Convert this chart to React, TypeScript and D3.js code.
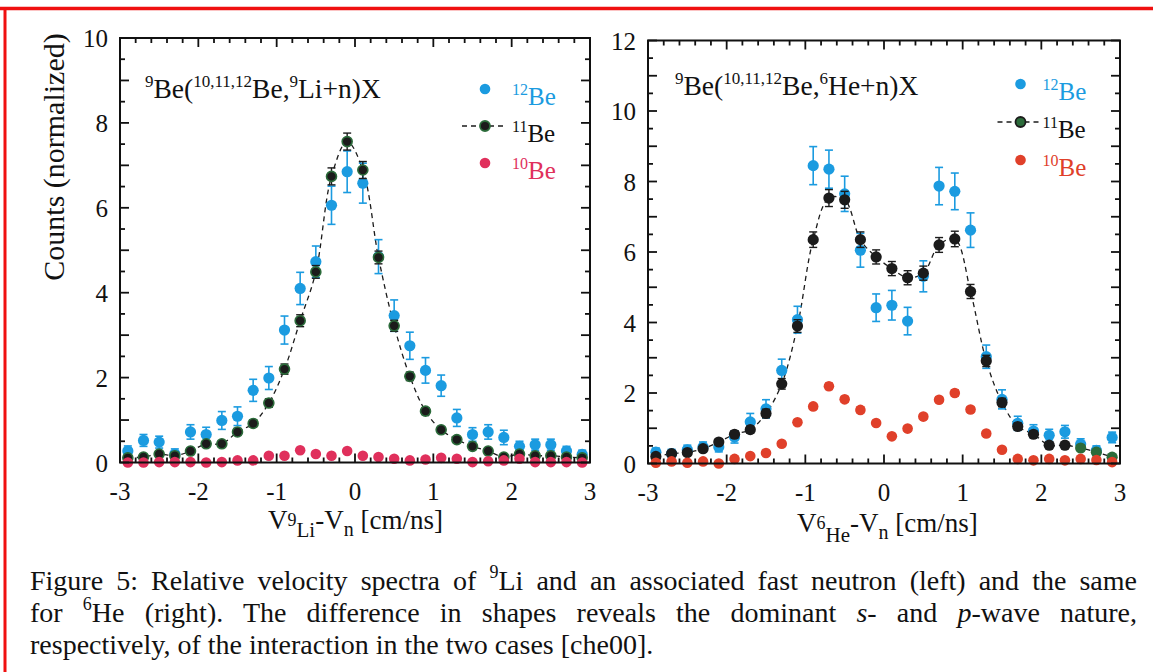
import { useLayoutEffect, useRef } from "react";
import * as d3 from "d3";

// velocity bins (cm/ns), same for both panels
const bins = [
  -2.9, -2.7, -2.5, -2.3, -2.1, -1.9, -1.7, -1.5, -1.3, -1.1, -0.9, -0.7, -0.5, -0.3, -0.1,
  0.1, 0.3, 0.5, 0.7, 0.9, 1.1, 1.3, 1.5, 1.7, 1.9, 2.1, 2.3, 2.5, 2.7, 2.9,
];

// left panel: 9Li + n
const liBe12 = [
  0.27, 0.52, 0.48, 0.2, 0.72, 0.66, 0.99, 1.09, 1.7, 1.99, 3.12, 4.1, 4.73, 6.06, 6.85,
  6.58, 4.85, 3.46, 2.75, 2.17, 1.81, 1.05, 0.66, 0.72, 0.59, 0.38, 0.42, 0.42, 0.27, 0.19,
];
const liBe12Err = [
  0.12, 0.14, 0.14, 0.12, 0.17, 0.17, 0.21, 0.22, 0.26, 0.27, 0.33, 0.38, 0.37, 0.45, 0.49,
  0.47, 0.4, 0.37, 0.32, 0.3, 0.25, 0.2, 0.16, 0.17, 0.17, 0.12, 0.13, 0.13, 0.11, 0.1,
];
const liBe11 = [
  0.11, 0.13, 0.2, 0.16, 0.27, 0.44, 0.44, 0.72, 0.92, 1.4, 2.2, 3.34, 4.49, 6.74, 7.56,
  6.89, 4.83, 3.22, 2.03, 1.21, 0.77, 0.54, 0.38, 0.27, 0.13, 0.2, 0.16, 0.16, 0.13, 0.11,
];
const liBe11Err = [
  0.05, 0.05, 0.05, 0.05, 0.06, 0.07, 0.07, 0.08, 0.08, 0.1, 0.12, 0.14, 0.15, 0.2, 0.2,
  0.2, 0.15, 0.13, 0.1, 0.08, 0.07, 0.06, 0.05, 0.05, 0.05, 0.05, 0.05, 0.05, 0.05, 0.05,
];
const liBe10 = [
  0.0, 0.0, 0.01, 0.01, 0.01, 0.0, 0.01, 0.05, 0.05, 0.16, 0.16, 0.29, 0.2, 0.16, 0.27,
  0.16, 0.13, 0.09, 0.05, 0.07, 0.11, 0.09, 0.01, 0.03, 0.05, 0.09, 0.01, 0.01, 0.01, 0.0,
];
const liBe10Err = [
  0.02, 0.02, 0.02, 0.02, 0.02, 0.02, 0.02, 0.03, 0.03, 0.04, 0.04, 0.05, 0.04, 0.04, 0.05,
  0.04, 0.04, 0.03, 0.03, 0.03, 0.03, 0.03, 0.02, 0.02, 0.02, 0.03, 0.02, 0.02, 0.02, 0.02,
];

// right panel: 6He + n
const heBe12 = [
  0.32, 0.28, 0.39, 0.47, 0.47, 0.75, 1.18, 1.55, 2.64, 4.08, 8.45, 8.35, 7.65, 6.05, 4.42,
  4.49, 4.04, 5.31, 7.87, 7.72, 6.62, 3.03, 1.82, 1.14, 0.92, 0.8, 0.9, 0.55, 0.37, 0.74,
];
const heBe12Err = [
  0.12, 0.12, 0.13, 0.14, 0.14, 0.17, 0.24, 0.26, 0.32, 0.38, 0.54, 0.54, 0.5, 0.48, 0.39,
  0.42, 0.39, 0.44, 0.53, 0.52, 0.49, 0.33, 0.27, 0.2, 0.18, 0.17, 0.18, 0.15, 0.13, 0.15,
];
const heBe11 = [
  0.2, 0.28, 0.31, 0.42, 0.61, 0.83, 0.96, 1.42, 2.26, 3.9, 6.35, 7.53, 7.48, 6.35, 5.86,
  5.53, 5.27, 5.4, 6.2, 6.37, 4.88, 2.91, 1.73, 1.05, 0.83, 0.52, 0.52, 0.44, 0.32, 0.18,
];
const heBe11Err = [
  0.05, 0.06, 0.06, 0.07, 0.08, 0.1, 0.1, 0.12, 0.15, 0.18, 0.22, 0.24, 0.24, 0.22, 0.2,
  0.2, 0.2, 0.2, 0.21, 0.22, 0.2, 0.16, 0.12, 0.1, 0.09, 0.08, 0.08, 0.07, 0.06, 0.05,
];
const heBe10 = [
  0.02, 0.06, 0.02, 0.06, 0.0, 0.13, 0.21, 0.3, 0.56, 1.17, 1.62, 2.19, 1.82, 1.52, 1.15,
  0.77, 0.99, 1.33, 1.81, 2.0, 1.53, 0.85, 0.39, 0.13, 0.09, 0.13, 0.09, 0.13, 0.1, 0.04,
];
const heBe10Err = [
  0.03, 0.03, 0.03, 0.03, 0.03, 0.04, 0.04, 0.05, 0.06, 0.07, 0.08, 0.09, 0.08, 0.08, 0.07,
  0.06, 0.07, 0.07, 0.08, 0.09, 0.08, 0.06, 0.05, 0.04, 0.03, 0.04, 0.03, 0.04, 0.03, 0.03,
];

const xTickLabels = ["-3", "-2", "-1", "0", "1", "2", "3"];

const FONT = "'Liberation Serif', 'Times New Roman', serif";
const BLUE = "#1b9be0";
const BLACK = "#1b1b1b";
const GREEN = "#2b6b3a";

type PanelProps = {
  left: number;
  right: number;
  top: number;
  bottom: number;
  yMax: number;
  yLabels: number[];
  be12: number[];
  be12Err: number[];
  be11: number[];
  be11Err: number[];
  be10: number[];
  be10Err: number[];
  red: string;
  ringed: boolean; // left panel: black dots with green rim
  greenFrom: number; // right panel: tail drawn green
  legendX: number;
  legendY: number;
  legendGap: number;
  legendText: number;
  title: { x: number; y: number; frag: string };
  xLabel: { x: number; y: number; mass: string; el: string; subDrop: number };
};

function Panel(p: PanelProps) {
  const x = d3.scaleLinear().domain([-3, 3]).range([p.left, p.right]);
  const y = d3.scaleLinear().domain([0, p.yMax]).range([p.bottom, p.top]);

  const xMinor = d3.range(0, 31).map((i) => -3 + i * 0.2);
  const yMinor = d3.range(0, p.yMax * 2 + 1).map((i) => i / 2);

  const line = d3
    .line<number>()
    .x((_, i) => x(bins[i]))
    .y((d) => y(d))
    .curve(d3.curveCatmullRom.alpha(0.5));

  const errBars = (vals: number[], errs: number[], color: string, w: number) =>
    vals.map((v, i) => {
      const cx = x(bins[i]);
      const y1 = y(v + errs[i]);
      const y2 = y(Math.max(v - errs[i], 0));
      return (
        <g key={i} stroke={color} strokeWidth={w}>
          <line x1={cx} x2={cx} y1={y1} y2={y2} />
          <line x1={cx - 4} x2={cx + 4} y1={y1} y2={y1} />
          <line x1={cx - 4} x2={cx + 4} y1={y2} y2={y2} />
        </g>
      );
    });

  const tickLen = (major: boolean) => (major ? 9 : 5);

  const L = p.legendX;
  const T = p.legendX + p.legendText;
  const r0 = p.legendY;
  const r1 = p.legendY + p.legendGap;
  const r2 = p.legendY + 2 * p.legendGap;
  const [fragMass, fragEl] = p.title.frag.split(" ");

  return (
    <g fontFamily={FONT}>
      {/* dashed 11Be guide */}
      <path d={line(p.be11) ?? ""} fill="none" stroke={BLACK} strokeWidth={1.3} strokeDasharray="5,4" />

      {/* 12Be */}
      {errBars(p.be12, p.be12Err, BLUE, 1.6)}
      {p.be12.map((v, i) => (
        <circle key={i} cx={x(bins[i])} cy={y(v)} r={5.6} fill={BLUE} />
      ))}

      {/* 11Be */}
      {errBars(p.be11, p.be11Err, BLACK, 1.4)}
      {p.be11.map((v, i) => {
        const tail = bins[i] > p.greenFrom;
        return (
          <circle
            key={i}
            cx={x(bins[i])}
            cy={y(v)}
            r={p.ringed ? 5 : 5.6}
            fill={tail ? GREEN : BLACK}
            stroke={p.ringed ? GREEN : "none"}
            strokeWidth={p.ringed ? 1.6 : 0}
          />
        );
      })}

      {/* 10Be */}
      {errBars(p.be10, p.be10Err, p.red, 1.4)}
      {p.be10.map((v, i) => (
        <circle key={i} cx={x(bins[i])} cy={y(v)} r={5.3} fill={p.red} />
      ))}

      {/* frame */}
      <rect
        x={p.left}
        y={p.top}
        width={p.right - p.left}
        height={p.bottom - p.top}
        fill="none"
        stroke="#111"
        strokeWidth={2}
      />
      <g stroke="#111" strokeWidth={1.8}>
        {xMinor.map((v, i) => {
          const major = Math.abs(v - Math.round(v)) < 1e-6;
          const len = tickLen(major);
          return (
            <g key={i}>
              <line x1={x(v)} x2={x(v)} y1={p.bottom} y2={p.bottom - len} />
              <line x1={x(v)} x2={x(v)} y1={p.top} y2={p.top + len} />
            </g>
          );
        })}
        {yMinor.map((v, i) => {
          const major = Number.isInteger(v);
          const len = tickLen(major);
          return (
            <g key={i}>
              <line x1={p.left} x2={p.left + len} y1={y(v)} y2={y(v)} />
              <line x1={p.right} x2={p.right - len} y1={y(v)} y2={y(v)} />
            </g>
          );
        })}
      </g>

      {/* tick labels */}
      <g fontSize={25} fill="#111">
        {x.ticks(6).map((v, i) => (
          <text key={i} x={x(v)} y={p.bottom + 37} textAnchor="middle">
            {xTickLabels[i]}
          </text>
        ))}
        {p.yLabels.map((v) => (
          <text key={v} x={p.left - 12} y={y(v) + 9} textAnchor="end">
            {v}
          </text>
        ))}
      </g>

      {/* reaction title */}
      <text x={p.title.x} y={p.title.y} fontSize={27.5} fill="#111">
        <tspan fontSize={17} dy={-11}>9</tspan>
        <tspan dy={11}>Be(</tspan>
        <tspan fontSize={17} dy={-11}>10,11,12</tspan>
        <tspan dy={11}>Be,</tspan>
        <tspan fontSize={17} dy={-11}>{fragMass}</tspan>
        <tspan dy={11}>{fragEl}+n)X</tspan>
      </text>

      {/* legend */}
      <circle cx={L} cy={r0} r={5.3} fill={BLUE} />
      <text x={T} y={r0 + 16} fontSize={25} fill={BLUE}>
        <tspan fontSize={16} dy={-10}>12</tspan>
        <tspan dy={10}>Be</tspan>
      </text>
      <line x1={L - 23} x2={L + 22} y1={r1} y2={r1} stroke={BLACK} strokeWidth={1.4} strokeDasharray="5,4" />
      <circle cx={L} cy={r1} r={5} fill={p.ringed ? BLACK : GREEN} stroke={p.ringed ? GREEN : BLACK} strokeWidth={1.8} />
      <text x={T} y={r1 + 16} fontSize={25} fill="#111">
        <tspan fontSize={16} dy={-10}>11</tspan>
        <tspan dy={10}>Be</tspan>
      </text>
      <circle cx={L} cy={r2} r={5.3} fill={p.red} />
      <text x={T} y={r2 + 16} fontSize={25} fill={p.red}>
        <tspan fontSize={16} dy={-10}>10</tspan>
        <tspan dy={10}>Be</tspan>
      </text>

      {/* x label */}
      <text x={p.xLabel.x} y={p.xLabel.y} fontSize={27} fill="#111">
        <tspan>V</tspan>
        <tspan fontSize={18} dy={-3}>{p.xLabel.mass}</tspan>
        <tspan fontSize={21} dy={p.xLabel.subDrop}>{p.xLabel.el}</tspan>
        <tspan fontSize={27} dy={3 - p.xLabel.subDrop}>-V</tspan>
        <tspan fontSize={20} dy={7}>n</tspan>
        <tspan fontSize={27} dy={-7}> [cm/ns]</tspan>
      </text>
    </g>
  );
}

function Caption() {
  const l1 = useRef<SVGTextElement | null>(null);
  const l2 = useRef<SVGTextElement | null>(null);

  useLayoutEffect(() => {
    const target = 1107;
    [l1.current, l2.current].forEach((el) => {
      if (!el) return;
      el.style.wordSpacing = "0px";
      const w = el.getComputedTextLength();
      const spaces = (el.textContent ?? "").split(" ").length - 1;
      if (spaces > 0) el.style.wordSpacing = `${(target - w) / spaces}px`;
    });
  }, []);

  return (
    <g fontFamily={FONT} fontSize={28} fill="#111">
      <text ref={l1} x={30} y={590}>
        Figure 5: Relative velocity spectra of <tspan fontSize={18} dy={-12}>9</tspan>
        <tspan dy={12}>Li and an associated fast neutron (left) and the same</tspan>
      </text>
      <text ref={l2} x={30} y={622}>
        for <tspan fontSize={18} dy={-12}>6</tspan>
        <tspan dy={12}>He (right). The difference in shapes reveals the dominant </tspan>
        <tspan fontStyle="italic">s</tspan>
        <tspan>- and </tspan>
        <tspan fontStyle="italic">p</tspan>
        <tspan>-wave nature,</tspan>
      </text>
      <text x={30} y={654}>
        respectively, of the interaction in the two cases [che00].
      </text>
    </g>
  );
}

export default function App() {
  return (
    <svg
      width={1153}
      height={672}
      viewBox="0 0 1153 672"
      style={{ position: "absolute", left: 0, top: 0, background: "#fff" }}
    >
      <rect width={1153} height={672} fill="#fff" />
      {/* red page frame */}
      <line x1={0} x2={1153} y1={8.5} y2={8.5} stroke="#f01010" strokeWidth={3.5} />
      <line x1={5} x2={5} y1={7} y2={672} stroke="#f01010" strokeWidth={3} />

      <text
        transform="translate(64,157) rotate(-90)"
        textAnchor="middle"
        fontFamily={FONT}
        fontSize={30}
        fill="#111"
      >
        Counts (normalized)
      </text>

      <Panel
        left={120}
        right={590}
        top={38}
        bottom={462.5}
        yMax={10}
        yLabels={[0, 2, 4, 6, 8, 10]}
        be12={liBe12}
        be12Err={liBe12Err}
        be11={liBe11}
        be11Err={liBe11Err}
        be10={liBe10}
        be10Err={liBe10Err}
        red="#e0305c"
        ringed={true}
        greenFrom={99}
        legendX={485}
        legendY={89}
        legendGap={37}
        legendText={27}
        title={{ x: 145, y: 98, frag: "9 Li" }}
        xLabel={{ x: 268, y: 529, mass: "9", el: "Li", subDrop: 11 }}
      />
      <Panel
        left={648}
        right={1120}
        top={40.5}
        bottom={463.5}
        yMax={12}
        yLabels={[0, 2, 4, 6, 8, 10, 12]}
        be12={heBe12}
        be12Err={heBe12Err}
        be11={heBe11}
        be11Err={heBe11Err}
        be10={heBe10}
        be10Err={heBe10Err}
        red="#e0402a"
        ringed={false}
        greenFrom={2.4}
        legendX={1020.5}
        legendY={84}
        legendGap={38}
        legendText={22}
        title={{ x: 675, y: 95, frag: "6 He" }}
        xLabel={{ x: 797, y: 532, mass: "6", el: "He", subDrop: 13 }}
      />

      <Caption />
    </svg>
  );
}
